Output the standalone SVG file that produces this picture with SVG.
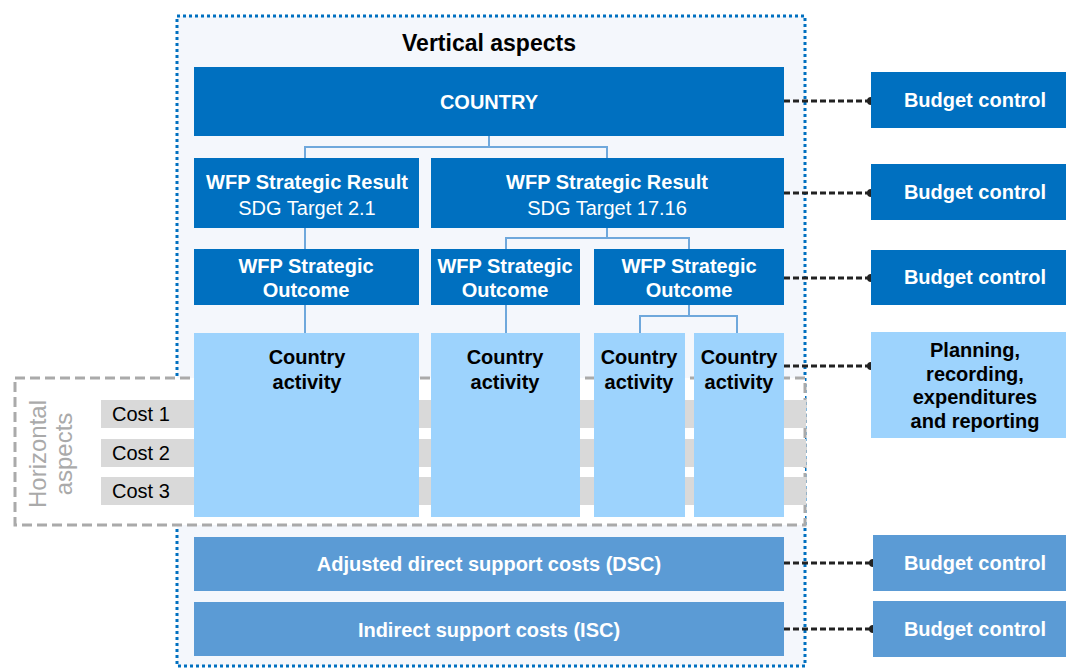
<svg xmlns="http://www.w3.org/2000/svg" width="1066" height="668" viewBox="0 0 1066 668">
<defs>
<marker id="dot" viewBox="0 0 10 10" refX="5" refY="5" markerWidth="8" markerHeight="8" markerUnits="userSpaceOnUse"><circle cx="5" cy="5" r="5" fill="#222"/></marker>
<style>
text{font-family:"Liberation Sans",Arial,sans-serif;text-anchor:middle}
.dark{fill:#0070c0}
.mid{fill:#5b9bd5}
.light{fill:#9dd3fd}
.wb{fill:#fff;font-weight:bold;font-size:20px}
.wr{fill:#fff;font-size:20px}
.kb{fill:#000;font-weight:bold;font-size:20px}
.tree{fill:none;stroke:#6fa8dc;stroke-width:2}
.dash{fill:none;stroke:#222;stroke-width:3;stroke-dasharray:6,3;marker-end:url(#dot)}
.cost{fill:#d9d9d9}
.ct{fill:#000;font-size:20px;text-anchor:start}
</style>
</defs>
<rect width="1066" height="668" fill="#fff"/>
<g id="vertical">
<rect x="177" y="16" width="628" height="650" fill="#f4f7fc" stroke="#0070c0" stroke-width="3" stroke-dasharray="3,3"/>
<text x="489" y="51" font-size="23" font-weight="bold" fill="#000">Vertical aspects</text>
</g>
<g id="horizontal">
<rect x="15" y="378" width="790" height="147" fill="#fff" stroke="#aaa" stroke-width="3" stroke-dasharray="10,5"/>
<text transform="translate(46,454) rotate(-90)" font-size="24" fill="#aaa">Horizontal</text>
<text transform="translate(72,454) rotate(-90)" font-size="24" fill="#aaa">aspects</text>
</g>
<g id="costs">
<rect class="cost" x="101" y="400" width="705" height="28"/>
<rect class="cost" x="101" y="439" width="705" height="28"/>
<rect class="cost" x="101" y="477" width="705" height="28"/>
<text class="ct" x="112" y="421">Cost 1</text>
<text class="ct" x="112" y="460">Cost 2</text>
<text class="ct" x="112" y="498">Cost 3</text>
</g>
<g id="connectors">
<path class="tree" d="M489 136V147M305 158V147H607V158M305 228V249M607 228V238M506 249V238H689V249M305 305V333M506 305V333M689 305V316M640 333V316H737V333"/>
<path class="dash" d="M784 101H871"/>
<path class="dash" d="M784 193H871"/>
<path class="dash" d="M784 278H871"/>
<path class="dash" d="M784 366H871"/>
<path class="dash" d="M784 563H873"/>
<path class="dash" d="M784 629H873"/>
</g>
<g id="country"><rect class="dark" x="194" y="67" width="590" height="69"/><text class="wb" x="489" y="109" font-size="21">COUNTRY</text></g>
<g id="sr1"><rect class="dark" x="194" y="158" width="225" height="70"/><text class="wb" x="307" y="189">WFP Strategic Result</text><text class="wr" x="307" y="215">SDG Target 2.1</text></g>
<g id="sr2"><rect class="dark" x="431" y="158" width="353" height="70"/><text class="wb" x="607" y="189">WFP Strategic Result</text><text class="wr" x="607" y="215">SDG Target 17.16</text></g>
<g id="so1"><rect class="dark" x="194" y="249" width="225" height="56"/><text class="wb" x="306" y="273">WFP Strategic</text><text class="wb" x="306" y="297">Outcome</text></g>
<g id="so2"><rect class="dark" x="431" y="249" width="149" height="56"/><text class="wb" x="505" y="273">WFP Strategic</text><text class="wb" x="505" y="297">Outcome</text></g>
<g id="so3"><rect class="dark" x="594" y="249" width="190" height="56"/><text class="wb" x="689" y="273">WFP Strategic</text><text class="wb" x="689" y="297">Outcome</text></g>
<g id="ca1"><rect class="light" x="194" y="333" width="225" height="184"/><text class="kb" x="307" y="364">Country</text><text class="kb" x="307" y="389">activity</text></g>
<g id="ca2"><rect class="light" x="431" y="333" width="149" height="184"/><text class="kb" x="505" y="364">Country</text><text class="kb" x="505" y="389">activity</text></g>
<g id="ca3"><rect class="light" x="594" y="333" width="91" height="184"/><text class="kb" x="639" y="364">Country</text><text class="kb" x="639" y="389">activity</text></g>
<g id="ca4"><rect class="light" x="694" y="333" width="90" height="184"/><text class="kb" x="739" y="364">Country</text><text class="kb" x="739" y="389">activity</text></g>
<g id="dsc"><rect class="mid" x="194" y="537" width="590" height="54"/><text class="wb" x="489" y="571" font-size="19">Adjusted direct support costs (DSC)</text></g>
<g id="isc"><rect class="mid" x="194" y="602" width="590" height="54"/><text class="wb" x="489" y="637" font-size="19">Indirect support costs (ISC)</text></g>
<g id="bc1"><rect class="dark" x="871" y="72" width="195" height="56"/><text class="wb" x="975" y="107">Budget control</text></g>
<g id="bc2"><rect class="dark" x="871" y="164" width="195" height="56"/><text class="wb" x="975" y="199">Budget control</text></g>
<g id="bc3"><rect class="dark" x="871" y="250" width="195" height="55"/><text class="wb" x="975" y="284">Budget control</text></g>
<g id="planning"><rect class="light" x="871" y="332" width="195" height="106"/><text class="kb" x="975" y="357" font-size="19">Planning,</text><text class="kb" x="975" y="381" font-size="19">recording,</text><text class="kb" x="975" y="404" font-size="19">expenditures</text><text class="kb" x="975" y="428" font-size="19">and reporting</text></g>
<g id="bc4"><rect class="mid" x="873" y="535" width="193" height="56"/><text class="wb" x="975" y="570">Budget control</text></g>
<g id="bc5"><rect class="mid" x="873" y="601" width="193" height="56"/><text class="wb" x="975" y="636">Budget control</text></g>
</svg>
